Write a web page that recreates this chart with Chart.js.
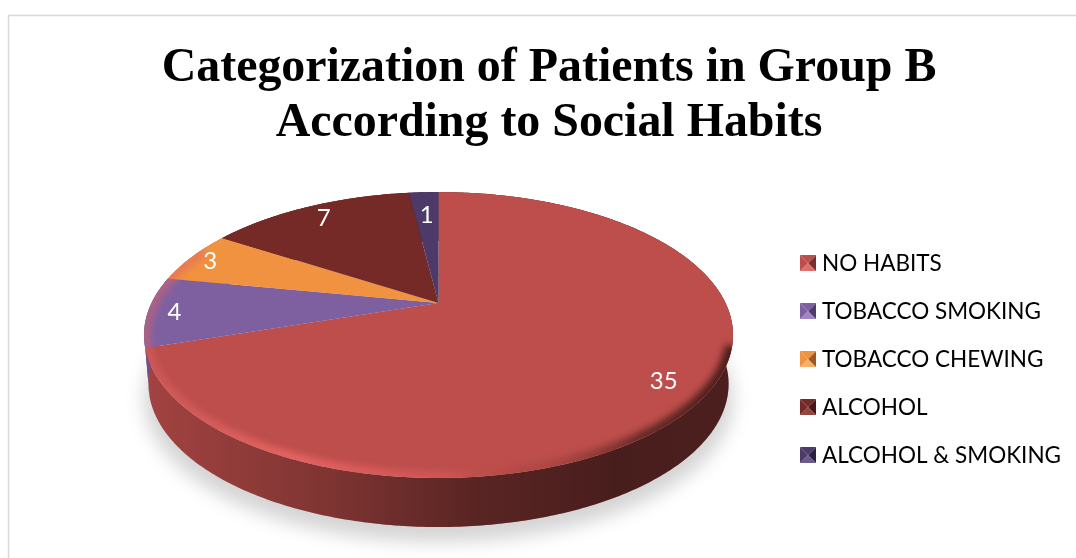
<!DOCTYPE html>
<html>
<head>
<meta charset="utf-8">
<style>
  html, body { margin: 0; padding: 0; background: #fff; }
  #wrap { width: 1076px; height: 558px; }
</style>
<script src="https://cdn.jsdelivr.net/npm/chart.js@4"></script>
</head>
<body>
<div id="wrap"><canvas id="pieChart" width="1076" height="558"></canvas></div>
<script>
const titleLines = ['Categorization of Patients in Group B', 'According to Social Habits'];
const categories = ['NO HABITS', 'TOBACCO SMOKING', 'TOBACCO CHEWING', 'ALCOHOL', 'ALCOHOL & SMOKING'];
const patients = [35, 4, 3, 7, 1];
const sliceColors = ['#bd4e4b', '#7e60a1', '#f0923f', '#752a28', '#4d3a68'];
const markerLight = ['#d9706c', '#a184c4', '#f5b06c', '#94443f', '#6d5a88'];
const markerDark = ['#7b2f2d', '#503b6b', '#9c5a22', '#471816', '#2c2040'];
// how far out along its slice each value label sits
const labelRadius = [0.86, 0.91, 0.92, 0.87, 0.77];

// the tilted disc: a projective map from the unit circle to the page
const apexX = 438.5, apexY = 303, depth = 49;
const tilt = -0.224, spanX = 287, spanY = 135.8;

function project(u, v) {
    const w = 1 + tilt * v;
    return { x: apexX + spanX * u / w, y: apexY + spanY * v / w };
}

// squeeze narrows the lower edge of the wall a little, for the perspective
function rimPath(ctx, from, to, dy, squeeze = 1) {
    const step = (to - from) / Math.max(2, Math.ceil(Math.abs(to - from) * 80));
    for (let a = from, i = 0; i * Math.abs(step) <= Math.abs(to - from) + 1e-6; i++, a += step) {
        const p = project(Math.cos(a), Math.sin(a));
        ctx.lineTo(apexX + (p.x - apexX) * squeeze, p.y + dy);
    }
}

function drawShadow(ctx) {
    ctx.save();
    ctx.filter = 'blur(9px)';
    ctx.fillStyle = 'rgba(0,0,0,0.17)';
    ctx.beginPath();
    rimPath(ctx, 0, Math.PI * 2, depth + 15, 1);
    ctx.fill();
    ctx.restore();
}

function drawWall(ctx, arcs) {
    const shade = ctx.createLinearGradient(144, 0, 733, 0);
    shade.addColorStop(0, 'rgba(0,0,0,0.14)');
    shade.addColorStop(0.3, 'rgba(0,0,0,0.32)');
    shade.addColorStop(0.55, 'rgba(0,0,0,0.52)');
    shade.addColorStop(0.8, 'rgba(0,0,0,0.62)');
    shade.addColorStop(1, 'rgba(0,0,0,0.6)');
    arcs.forEach(arc => {
        ctx.beginPath();
        rimPath(ctx, arc.startAngle, arc.endAngle, 0);
        rimPath(ctx, arc.endAngle, arc.startAngle, depth, 0.985);
        ctx.closePath();
        ctx.fillStyle = arc.options.backgroundColor;
        ctx.fill();
        ctx.fillStyle = shade;
        ctx.fill();
    });
}

// the library's own arcs, drawn one page row at a time through the tilt
function drawTop(chart, ctx, arcs) {
    const ex = arcs[0].x, ey = arcs[0].y, R = arcs[0].outerRadius;
    for (let row = 188; row < 482; row++) {
        const rel = row + 0.5 - apexY;
        const v = rel / (spanY - tilt * rel);
        const w = 1 + tilt * v;
        const sx = spanX / (w * R), sy = spanY / (w * w * R);
        ctx.save();
        ctx.beginPath();
        ctx.rect(0, row, chart.width, 1);
        ctx.clip();
        ctx.setTransform(sx, 0, 0, sy, apexX - sx * ex, row + 0.5 - sy * (ey + R * v));
        arcs.forEach(arc => arc.draw(ctx));
        ctx.restore();
    }
}

function drawBevel(ctx) {
    const glow = ctx.createLinearGradient(144, 0, 733, 0);
    glow.addColorStop(0, 'rgba(222,100,100,0.45)');
    glow.addColorStop(0.25, 'rgba(240,105,105,0.8)');
    glow.addColorStop(0.5, 'rgba(225,95,95,0.5)');
    glow.addColorStop(0.68, 'rgba(140,55,52,0.3)');
    glow.addColorStop(0.85, 'rgba(70,28,26,0.75)');
    glow.addColorStop(1, 'rgba(60,22,20,0.9)');
    ctx.save();
    ctx.beginPath();
    rimPath(ctx, 0, Math.PI * 2, 0);
    ctx.clip();
    ctx.filter = 'blur(3.5px)';
    ctx.strokeStyle = glow;
    ctx.lineWidth = 14;
    ctx.beginPath();
    rimPath(ctx, 0.3, Math.PI + 0.45, 0);
    ctx.stroke();
    ctx.restore();
}

function drawValues(ctx, arcs) {
    ctx.save();
    ctx.fillStyle = '#fff';
    ctx.font = '24px Lato';
    ctx.textAlign = 'center';
    ctx.textBaseline = 'middle';
    arcs.forEach((arc, i) => {
        const mid = (arc.startAngle + arc.endAngle) / 2;
        const p = project(labelRadius[i] * Math.cos(mid), labelRadius[i] * Math.sin(mid));
        ctx.fillText(patients[i], p.x, p.y + 1);
    });
    ctx.restore();
}

// bevelled square for the legend, as in the original
function makeMarker(i) {
    const c = document.createElement('canvas');
    c.width = 16; c.height = 16;
    const g = c.getContext('2d');
    const tri = (col, x1, y1, x2, y2) => {
        g.fillStyle = col;
        g.beginPath();
        g.moveTo(8, 8); g.lineTo(x1, y1); g.lineTo(x2, y2);
        g.closePath();
        g.fill();
    };
    tri(sliceColors[i], 0, 0, 16, 0);
    tri(sliceColors[i], 0, 0, 0, 16);
    tri(markerDark[i], 16, 0, 16, 16);
    tri(markerLight[i], 0, 16, 16, 16);
    return c;
}

const discPlugin = {
    id: 'disc',
    beforeDraw(chart) {
        const ctx = chart.ctx;
        ctx.save();
        ctx.fillStyle = '#fff';
        ctx.fillRect(0, 0, chart.width, chart.height);
        ctx.strokeStyle = '#d9d9d9';
        ctx.lineWidth = 1.5;
        ctx.beginPath();
        ctx.moveTo(8.5, chart.height);
        ctx.lineTo(8.5, 15.5);
        ctx.lineTo(chart.width, 15.5);
        ctx.stroke();
        ctx.restore();
    },
    beforeDatasetsDraw(chart) {
        const ctx = chart.ctx;
        const arcs = chart.getDatasetMeta(0).data;
        drawShadow(ctx);
        drawWall(ctx, arcs);
        drawTop(chart, ctx, arcs);
        drawBevel(ctx);
        drawValues(ctx, arcs);
        return false;
    }
};

new Chart(document.getElementById('pieChart').getContext('2d'), {
    type: 'pie',
    data: {
        labels: categories,
        datasets: [{
            data: patients,
            backgroundColor: sliceColors,
            borderWidth: 0
        }]
    },
    plugins: [discPlugin],
    options: {
        responsive: false,
        animation: false,
        events: [],
        layout: { padding: { left: 27, right: 5, top: 0, bottom: 66 } },
        plugins: {
            tooltip: { enabled: false },
            title: {
                display: true,
                text: titleLines,
                color: '#000',
                font: { family: '"Liberation Serif"', size: 47.9, weight: 'bold', lineHeight: 1.146 },
                padding: { top: 41, bottom: 10 }
            },
            legend: {
                position: 'right',
                align: 'end',
                labels: {
                    color: '#000',
                    font: { family: 'Lato', size: 22.5 },
                    usePointStyle: true,
                    boxWidth: 5.5,
                    boxHeight: 16,
                    padding: 25.5,
                    generateLabels: () => categories.map((text, i) => ({
                        text,
                        fillStyle: sliceColors[i],
                        strokeStyle: sliceColors[i],
                        lineWidth: 0,
                        hidden: false,
                        index: i,
                        pointStyle: makeMarker(i)
                    }))
                }
            }
        }
    }
});
</script>
</body>
</html>
